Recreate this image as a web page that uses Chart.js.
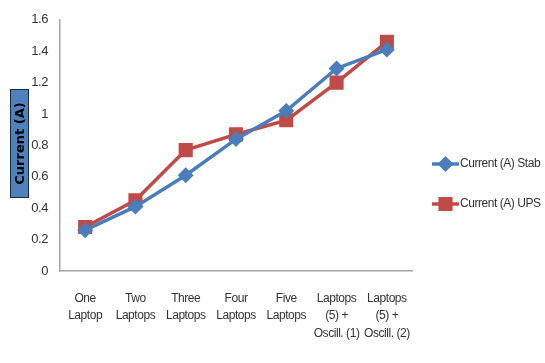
<!DOCTYPE html>
<html>
<head>
<meta charset="utf-8">
<script src="https://cdn.jsdelivr.net/npm/chart.js@4/dist/chart.umd.min.js"></script>
<style>
  html, body { margin: 0; padding: 0; background: #fff; }
  #wrap { width: 545px; height: 363px; position: relative; }
</style>
</head>
<body>
<div id="wrap"><canvas id="c" width="545" height="363"></canvas></div>
<script>
const categories = [
  ['One', 'Laptop'],
  ['Two', 'Laptops'],
  ['Three', 'Laptops'],
  ['Four', 'Laptops'],
  ['Five', 'Laptops'],
  ['Laptops', '(5) +', 'Oscill. (1)'],
  ['Laptops', '(5) +', 'Oscill. (2)']
];
const stabCurrent = [0.26, 0.41, 0.61, 0.84, 1.02, 1.29, 1.41];
const upsCurrent  = [0.28, 0.45, 0.77, 0.87, 0.96, 1.20, 1.46];
const yTicks = [0, 0.2, 0.4, 0.6, 0.8, 1, 1.2, 1.4, 1.6];
const seriesNames = ['Current (A) Stab', 'Current (A) UPS'];
const yTitle = 'Current (A)';

const FONT = '"Liberation Sans", Arial, sans-serif';
const BLUE = '#4A7EBB';
const RED = '#BE4B48';

// Tighter letter spacing for a narrow, compact label look
const tightText = {
  id: 'tightText',
  beforeDraw(chart) { chart.ctx.letterSpacing = '-0.45px'; }
};

// Y-axis title drawn inside a filled box, plus a legend with line + marker samples
const decorations = {
  id: 'decorations',
  afterDraw(chart) {
    const ctx = chart.ctx;
    // title box
    const bx = 10, bw = 19;
    const cy = 143.5, bh = 109;
    ctx.save();
    ctx.letterSpacing = '0px';
    ctx.fillStyle = '#4F81BD';
    ctx.strokeStyle = '#1F2A3A';
    ctx.lineWidth = 1;
    ctx.fillRect(bx, cy - bh / 2, bw, bh);
    ctx.strokeRect(bx + 0.5, cy - bh / 2 + 0.5, bw - 1, bh - 1);
    ctx.translate(bx + bw / 2, cy);
    ctx.rotate(-Math.PI / 2);
    ctx.fillStyle = '#000';
    ctx.font = 'bold 13px "DejaVu Sans", sans-serif';
    ctx.textAlign = 'center';
    ctx.textBaseline = 'middle';
    ctx.fillText(yTitle, 0, 1);
    ctx.restore();

    // legend
    const items = [
      { ds: chart.data.datasets[0], y: 164 },
      { ds: chart.data.datasets[1], y: 204 }
    ];
    items.forEach(it => {
      const ds = it.ds;
      ctx.save();
      ctx.strokeStyle = ds.borderColor;
      ctx.lineWidth = 3.5;
      ctx.beginPath();
      ctx.moveTo(432, it.y);
      ctx.lineTo(459, it.y);
      ctx.stroke();
      ctx.fillStyle = ds.pointBackgroundColor;
      ctx.strokeStyle = ds.pointBorderColor;
      Chart.helpers.drawPoint(ctx, {
        pointStyle: ds.pointStyle,
        radius: ds.pointRadius,
        borderWidth: 1
      }, 445.5, it.y);
      ctx.fillStyle = '#333';
      ctx.font = '12px ' + FONT;
      ctx.textAlign = 'left';
      ctx.textBaseline = 'middle';
      ctx.fillText(ds.label, 460, it.y);
      ctx.restore();
    });
  }
};

new Chart(document.getElementById('c'), {
  type: 'line',
  data: {
    labels: categories,
    datasets: [
      {
        label: seriesNames[0],
        data: stabCurrent,
        borderColor: BLUE,
        backgroundColor: BLUE,
        pointBackgroundColor: BLUE,
        pointBorderColor: BLUE,
        borderWidth: 3.5,
        pointStyle: 'rectRot',
        pointRadius: 5.5,
        tension: 0
      },
      {
        label: seriesNames[1],
        data: upsCurrent,
        borderColor: RED,
        backgroundColor: RED,
        pointBackgroundColor: RED,
        pointBorderColor: RED,
        borderWidth: 3.5,
        pointStyle: 'rect',
        pointRadius: 7.5,
        tension: 0
      }
    ]
  },
  options: {
    responsive: false,
    animation: false,
    devicePixelRatio: 1,
    layout: { padding: { left: 0, right: 133, top: 15, bottom: 0 } },
    plugins: {
      legend: { display: false },
      tooltip: { enabled: false }
    },
    scales: {
      x: {
        offset: true,
        grid: { display: false, drawTicks: false },
        border: { display: true, color: '#A6A6A6', width: 1.5 },
        ticks: {
          color: '#333',
          font: { family: FONT, size: 12, lineHeight: 1.45 },
          padding: 19,
          maxRotation: 0,
          autoSkip: false
        },
        afterFit(scale) { scale.height = 92; }
      },
      y: {
        min: 0,
        max: 1.6,
        afterBuildTicks(scale) { scale.ticks = yTicks.map(v => ({ value: v })); },
        grid: { display: false, drawTicks: false },
        border: { display: true, color: '#A6A6A6', width: 1.5 },
        ticks: {
          color: '#333',
          font: { family: FONT, size: 13 },
          padding: 12,
          callback: v => String(v)
        },
        afterFit(scale) { scale.width = 60; }
      }
    }
  },
  plugins: [tightText, decorations]
});
</script>
</body>
</html>
